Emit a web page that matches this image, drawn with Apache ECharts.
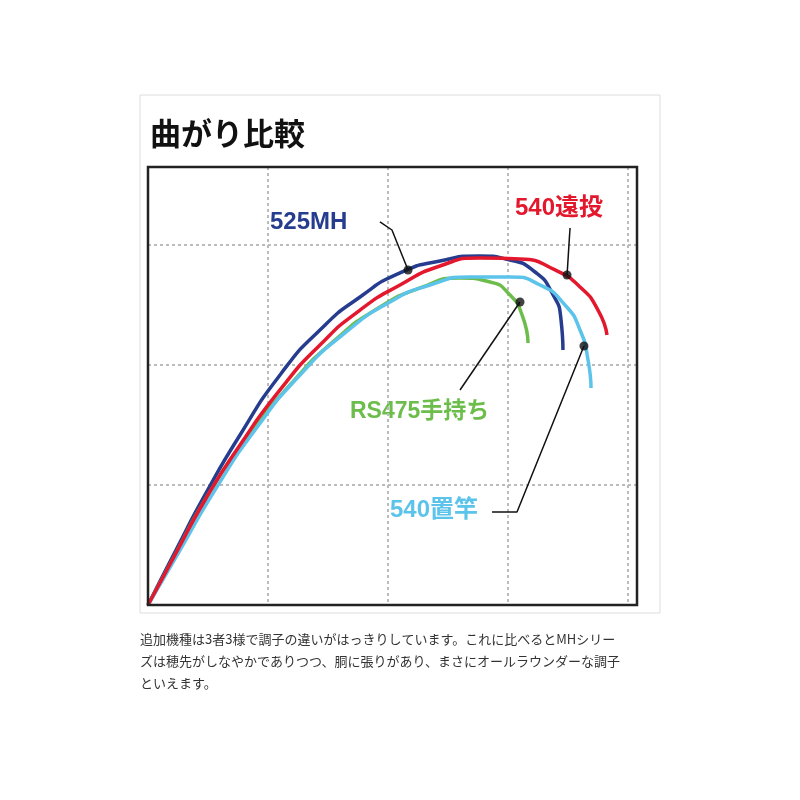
<!DOCTYPE html><html><head><meta charset="utf-8">
<script src="https://cdn.jsdelivr.net/npm/echarts@6/dist/echarts.min.js"></script>
<style>body{margin:0;background:#fff}#c{width:800px;height:800px}</style></head><body><div id="c"></div>
<script>
const red540 = [[0,0],[0.225,0.417],[0.475,0.875],[0.767,1.333],[1.1,1.792],[1.433,2.167],[1.767,2.458],[2.1,2.667],[2.433,2.825],[2.767,2.892],[3.1,2.883],[3.392,2.792],[3.6,2.65],[3.75,2.458],[3.825,2.25]];
const blue525 = [[0,0],[0.225,0.442],[0.475,0.917],[0.767,1.417],[1.1,1.917],[1.433,2.292],[1.767,2.567],[2.1,2.767],[2.433,2.867],[2.767,2.908],[3.017,2.875],[3.225,2.775],[3.367,2.6],[3.442,2.375],[3.458,2.125]];
const cyan540 = [[0,0],[0.267,0.458],[0.558,0.958],[0.892,1.458],[1.267,1.917],[1.642,2.267],[2.017,2.525],[2.35,2.667],[2.683,2.733],[3.017,2.733],[3.267,2.667],[3.475,2.5],[3.6,2.292],[3.667,2.042],[3.692,1.808]];
const greenRS = [[0,0],[0.225,0.417],[0.475,0.875],[0.808,1.375],[1.183,1.833],[1.558,2.208],[1.933,2.483],[2.267,2.642],[2.6,2.725],[2.85,2.692],[3.017,2.583],[3.117,2.417],[3.167,2.183]];
const leaders = [
  [[1.933,3.192],[2.033,3.125],[2.167,2.792]],
  [[3.517,3.142],[3.492,2.75]],
  [[2.6,1.792],[3.1,2.525]],
  [[2.867,0.775],[3.075,0.775],[3.633,2.158]]
];
const labels = ['525MH','540遠投','RS475手持ち','540置竿'];
const caption = ['追加機種は3者3様で調子の違いがはっきりしています。これに比べるとMHシリー','ズは穂先がしなやかでありつつ、胴に張りがあり、まさにオールラウンダーな調子','といえます。'];
const BLUE='#263c8e',RED='#e3182d',CYAN='#5cc3ea',GREEN='#6cbd4b';
const F='"Noto Sans CJK JP",sans-serif';
const LF='"Liberation Sans","Noto Sans CJK JP",sans-serif';
function curve(d,c){return {type:'line',data:d,smooth:0.6,showSymbol:false,lineStyle:{color:c,width:3.5},z:3};}
const series=[curve(blue525,BLUE),curve(greenRS,GREEN),curve(cyan540,CYAN),curve(red540,RED)];
leaders.forEach(l=>{
  series.push({type:'line',data:l,showSymbol:false,lineStyle:{color:'#111',width:1.5},z:5});
  series.push({type:'scatter',data:[l[l.length-1]],symbolSize:9,itemStyle:{color:'#111'},z:6});
});
const chart=echarts.init(document.getElementById('c'));
chart.setOption({
  animation:false,
  grid:{left:148,top:167,width:489,height:438,show:false},
  xAxis:{type:'value',min:0,max:4.075,interval:1,axisLine:{show:false},axisTick:{show:false},axisLabel:{show:false},
    splitLine:{show:true,lineStyle:{color:'#bbb',type:[3,3],width:2}}},
  yAxis:{type:'value',min:0,max:3.65,interval:1,axisLine:{show:false},axisTick:{show:false},axisLabel:{show:false},
    splitLine:{show:true,lineStyle:{color:'#bbb',type:[3,3],width:2}}},
  series,
  graphic:[
    {type:'rect',shape:{x:140,y:95,width:520,height:518},style:{fill:'none',stroke:'#ddd',lineWidth:1},z:-1},
    {type:'rect',shape:{x:148,y:167,width:489,height:438},style:{fill:'none',stroke:'#222',lineWidth:2.5},z:10},
    {type:'text',left:150,top:118,style:{text:'曲がり比較',font:'bold 31px '+F,fill:'#111'}},
    {type:'text',left:270,top:210,style:{text:labels[0],font:'bold 24px '+LF,fill:BLUE}},
    {type:'text',left:515,top:196,style:{text:labels[1],font:'bold 24px '+LF,fill:RED}},
    {type:'text',left:350,top:400,style:{text:labels[2],font:'bold 23px '+LF,fill:GREEN}},
    {type:'text',left:390,top:498,style:{text:labels[3],font:'bold 24px '+LF,fill:CYAN}},
    {type:'text',left:140,top:628,style:{text:caption.join('\n'),font:'13px '+F,fill:'#333',lineHeight:22}}
  ]
});
</script></body></html>
